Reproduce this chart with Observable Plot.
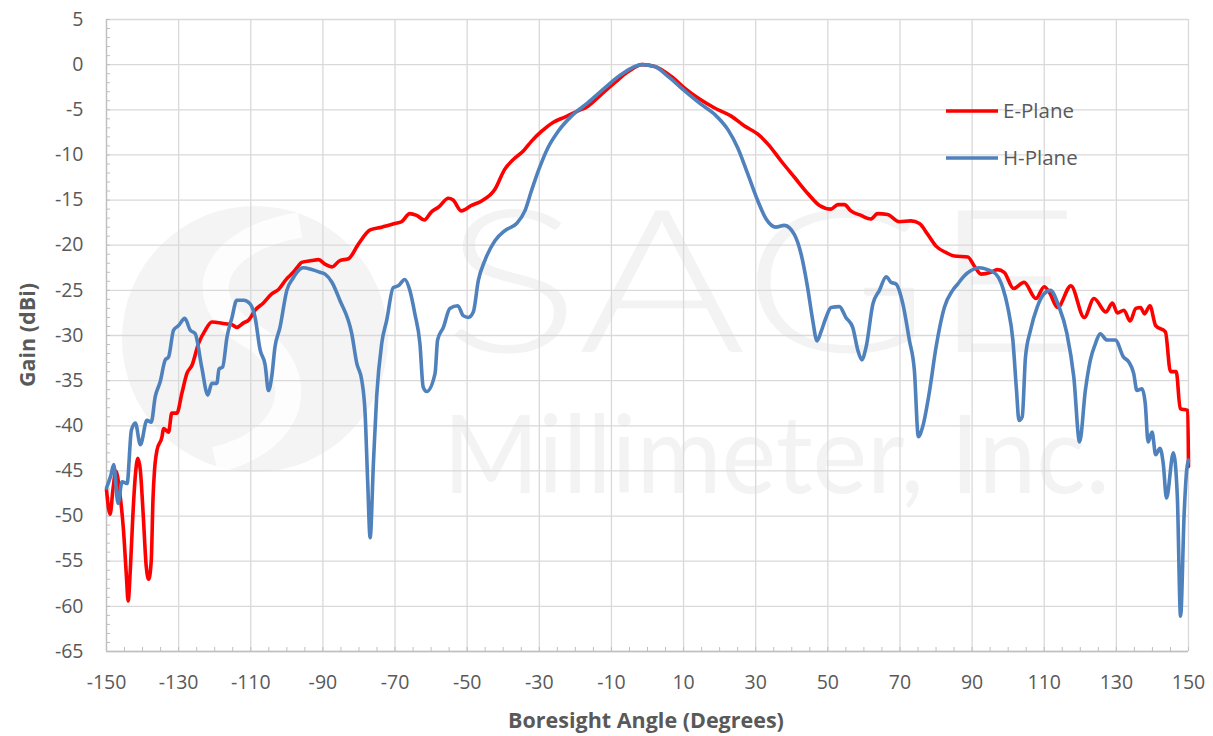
<!DOCTYPE html>
<html>
<head>
<meta charset="utf-8">
<script src="https://cdn.jsdelivr.net/npm/d3@7"></script>
<script src="https://cdn.jsdelivr.net/npm/@observablehq/plot@0.6"></script>
<style>
  html, body { margin: 0; padding: 0; background: #ffffff; }
  #wrap { position: relative; width: 1213px; height: 736px; overflow: hidden; font-family: "Open Sans", "Liberation Sans", sans-serif; }
  #wrap > svg, #wrap > div { position: absolute; left: 0; top: 0; }
</style>
</head>
<body>
<div id="wrap"></div>
<script>
// ---- data ----
const ePlaneAngle = [-150,-149,-148.2,-147.4,-146.3,-145.3,-144.5,-144.0,-143.4,-142.7,-142.0,-141.3,-140.6,-139.8,-139.0,-138.3,-137.6,-137.1,-136.7,-136.0,-134.6,-134.2,-132.8,-131.9,-130.5,-129.1,-127.7,-126.3,-124.5,-122.6,-120.8,-117.1,-115.2,-113.9,-112.0,-110.6,-108.8,-106.5,-104.2,-102.3,-100.0,-98.2,-96.8,-95.9,-93.1,-91.2,-89.4,-87.5,-85.3,-82.9,-80.2,-76.9,-73.7,-70.0,-68.2,-65.9,-64.0,-61.9,-59.9,-58.0,-55.2,-53.9,-51.6,-48.8,-46.0,-42.3,-39.6,-37.2,-34.5,-32.2,-29.4,-26.2,-22.9,-19.7,-16.5,-12.8,-9.1,-5.4,-1.5,2.0,6.6,10.3,14.0,18.6,23.2,26.9,30.6,33.4,37.1,40.8,44.5,47.7,50.9,52.8,54.6,56.4,59.2,61.9,63.8,66.6,69.8,73.0,75.4,77.7,80.0,82.7,85.1,88.8,90.6,92.5,95.2,97.0,98.9,101.5,104.4,107.7,110.0,111.4,113.7,117.4,121.1,123.8,127.1,128.9,130.3,132.1,133.8,135.4,136.7,137.8,139.3,140.9,143.6,145.0,146.6,147.7,149.8,150.0];
const ePlaneGain  = [-47.1,-49.8,-47.0,-45.0,-47.5,-51.5,-56.5,-59.4,-56.0,-50.0,-45.5,-43.6,-45.0,-50.0,-55.5,-57.0,-55.0,-48.0,-45.0,-42.7,-41.2,-40.3,-40.7,-38.6,-38.6,-36.4,-34.2,-33.3,-30.9,-29.4,-28.5,-28.7,-28.8,-29.1,-28.6,-28.3,-27.2,-26.4,-25.4,-24.9,-23.7,-23.0,-22.3,-21.9,-21.7,-21.6,-22.1,-22.4,-21.7,-21.5,-19.9,-18.3,-18.0,-17.6,-17.4,-16.5,-16.7,-17.2,-16.3,-15.8,-14.8,-15.0,-16.2,-15.6,-15.1,-13.8,-11.6,-10.5,-9.6,-8.5,-7.4,-6.4,-5.8,-5.2,-4.6,-3.3,-2.0,-0.8,0.0,-0.2,-1.3,-2.6,-3.7,-4.8,-5.7,-6.8,-7.7,-8.8,-10.7,-12.5,-14.3,-15.6,-16.0,-15.5,-15.5,-16.2,-16.7,-17.1,-16.5,-16.6,-17.4,-17.3,-17.6,-18.8,-20.1,-20.8,-21.2,-21.3,-22.3,-23.2,-23.0,-22.7,-23.0,-24.8,-24.1,-25.9,-24.6,-25.2,-26.9,-24.5,-28.0,-25.9,-27.4,-26.4,-27.5,-27.2,-28.4,-27.0,-26.9,-27.6,-26.7,-28.9,-29.6,-34.0,-34.0,-38.1,-38.3,-44.5];

const hPlaneAngle = [-150,-148.8,-148.0,-146.8,-145.7,-144.3,-143.1,-142.0,-140.6,-138.8,-137.6,-136.5,-135.1,-133.7,-132.8,-131.4,-130.0,-128.3,-126.8,-125.4,-123.6,-121.9,-120.8,-119.4,-118.8,-117.8,-116.6,-115.2,-113.9,-112.0,-110.2,-108.8,-107.4,-106.0,-105.1,-104.2,-103.3,-101.9,-100.0,-98.2,-97.2,-95.4,-93.1,-90.8,-89.4,-87.5,-85.3,-82.0,-80.6,-79.2,-78.3,-77.6,-76.9,-76.0,-75.1,-73.7,-72.3,-70.5,-69.1,-67.3,-65.9,-64.5,-63.1,-62.2,-61.2,-58.9,-58.2,-56.6,-54.8,-52.6,-51.1,-49.7,-48.3,-46.9,-45.1,-42.3,-39.6,-36.3,-34.0,-32.2,-30.3,-27.6,-24.8,-21.1,-16.5,-11.9,-7.3,-1.5,2.0,5.7,10.3,14.9,18.6,22.3,25.0,27.8,30.6,32.9,35.6,37.9,40.7,42.6,44.4,45.8,47.0,48.1,49.5,50.9,53.2,55.0,56.9,58.3,59.4,60.6,62.5,64.3,66.2,67.5,68.9,70.8,72.6,74.0,75.1,76.3,78.1,80.0,82.3,84.6,86.0,87.8,89.7,92.0,94.3,96.6,98.5,99.9,101.3,102.3,103.0,103.9,104.8,106.2,108.0,109.9,111.7,114.0,116.3,118.2,119.8,121.4,122.8,124.2,125.5,127.4,129.7,132.0,133.4,134.8,135.7,137.1,138.0,138.8,139.9,140.9,142.1,143.0,143.9,145.8,146.9,147.8,148.8,149.5,150.0];
const hPlaneGain  = [-46.9,-45.5,-44.3,-48.6,-46.2,-46.4,-40.5,-39.7,-42.1,-39.4,-39.6,-36.8,-35.1,-32.7,-32.4,-29.4,-28.9,-28.1,-29.4,-29.8,-33.5,-36.6,-35.3,-35.3,-33.7,-33.5,-30.2,-28.0,-26.1,-26.1,-26.5,-28.0,-31.6,-33.3,-36.1,-34.6,-31.3,-29.1,-25.0,-23.6,-23.0,-22.5,-22.7,-23.0,-23.2,-24.1,-26.1,-29.8,-33.1,-35.0,-38.6,-46.0,-52.4,-44.2,-36.8,-30.9,-28.3,-24.7,-24.5,-23.8,-25.0,-27.6,-30.9,-35.7,-36.2,-34.2,-30.5,-29.1,-27.0,-26.7,-27.8,-28.0,-27.4,-23.9,-21.7,-19.5,-18.4,-17.6,-16.2,-14.0,-11.8,-9.2,-7.4,-5.7,-4.2,-2.6,-1.1,0.0,-0.2,-1.3,-2.9,-4.4,-5.5,-7.2,-9.2,-12.1,-15.1,-17.1,-18.0,-17.8,-18.8,-21.0,-24.7,-28.3,-30.6,-29.6,-28.0,-26.9,-26.8,-28.0,-29.1,-31.6,-32.7,-31.3,-26.5,-25.0,-23.5,-24.1,-24.3,-26.5,-30.5,-33.9,-41.2,-40.1,-36.4,-31.3,-26.9,-25.0,-24.3,-23.4,-22.8,-22.5,-22.7,-23.2,-24.7,-26.9,-30.5,-36.0,-39.4,-39.0,-32.4,-29.4,-26.9,-25.4,-25.0,-26.7,-29.8,-34.6,-41.8,-36.1,-32.7,-30.9,-29.8,-30.5,-30.5,-32.4,-32.9,-34.2,-36.1,-35.9,-37.5,-41.8,-40.7,-43.2,-42.5,-44.2,-48.0,-43.0,-47.8,-61.1,-49.7,-44.9,-43.8];

const seriesNames = ["E-Plane", "H-Plane"];
const seriesColors = ["#FF0000", "#4F81BD"];
const xTicks = [-150,-130,-110,-90,-70,-50,-30,-10,10,30,50,70,90,110,130,150];
const yTicks = [5,0,-5,-10,-15,-20,-25,-30,-35,-40,-45,-50,-55,-60,-65];
const xMinorTicks = d3.range(-150, 150.1, 5);
const yMinorTicks = d3.range(-65, 5.1, 1);
const xTitle = "Boresight Angle (Degrees)";
const yTitle = "Gain (dBi)";
const watermarkTop = "SAGE";
const watermarkBottom = "Millimeter, Inc.";

// ---- build tables ----
const rows = [
  ...ePlaneAngle.map((a, i) => ({angle: a, gain: ePlaneGain[i], series: seriesNames[0]})),
  ...hPlaneAngle.map((a, i) => ({angle: a, gain: hPlaneGain[i], series: seriesNames[1]}))
];

const W = 1213, H = 736;
const wrap = document.getElementById("wrap");
const fontFam = '"Open Sans", "Liberation Sans", sans-serif';
const hyphenFmt = d => String(d);

// watermark layer (behind the chart)
const wm = d3.create("svg").attr("width", W).attr("height", H);
wm.append("circle").attr("cx", 255).attr("cy", 339).attr("r", 133).attr("fill", "#f4f4f4");
wm.append("path").attr("d", "M300,225 C210,240 190,300 250,335 C310,370 300,440 215,460")
  .attr("fill", "none").attr("stroke", "#ffffff").attr("stroke-width", 26).attr("opacity", 0.8);
wm.append("text").attr("x", 443).attr("y", 352).attr("font-family", "Lato, 'Open Sans', sans-serif")
  .attr("font-weight", 300).attr("font-size", 200).attr("fill", "#f3f3f3")
  .attr("textLength", 637).attr("lengthAdjust", "spacingAndGlyphs").text(watermarkTop);
wm.append("text").attr("x", 443).attr("y", 493).attr("font-family", "Lato, 'Open Sans', sans-serif")
  .attr("font-weight", 400).attr("font-size", 108).attr("fill", "#f3f3f3")
  .attr("textLength", 667).attr("lengthAdjust", "spacingAndGlyphs").text(watermarkBottom);
wrap.appendChild(wm.node());

const grid = {stroke: "#d9d9d9", strokeOpacity: 1, strokeWidth: 1.3};

const chart = Plot.plot({
  width: W,
  height: H,
  marginLeft: 106,
  marginRight: 25,
  marginTop: 19,
  marginBottom: 85,
  style: {fontFamily: fontFam, fontSize: "19.5px", color: "#595959", background: "transparent"},
  x: {domain: [-150, 150], label: null},
  y: {domain: [-65, 5], label: null},
  color: {domain: seriesNames, range: seriesColors},
  marks: [
    Plot.gridX(xTicks, grid),
    Plot.gridY(yTicks, grid),
    Plot.axisX(xMinorTicks, {anchor: "bottom", tickSize: -4, tickFormat: () => "", stroke: "#bfbfbf", strokeOpacity: 1, label: null}),
    Plot.axisY(yMinorTicks, {anchor: "left", tickSize: -4, tickFormat: () => "", stroke: "#bfbfbf", strokeOpacity: 1, label: null}),
    Plot.ruleY([-65], {stroke: "#bfbfbf", strokeWidth: 1.3}),
    Plot.ruleX([-150], {stroke: "#bfbfbf", strokeWidth: 1.3}),
    Plot.axisX(xTicks, {anchor: "bottom", tickSize: 0, tickPadding: 24, tickFormat: hyphenFmt, label: null, fill: "#595959"}),
    Plot.axisY(yTicks, {anchor: "left", tickSize: 0, tickPadding: 23, tickFormat: hyphenFmt, label: null, fill: "#595959"}),
    Plot.line(rows, {x: "angle", y: "gain", z: "series", stroke: "series", strokeWidth: 3.6, curve: "monotone-x", strokeLinejoin: "round", strokeLinecap: "round"})
  ]
});
wrap.appendChild(chart);

// legend + titles (front layer)
const fr = d3.create("svg").attr("width", W).attr("height", H).style("pointer-events", "none");
const legY = [111, 158];
seriesNames.forEach((name, i) => {
  fr.append("line").attr("x1", 946).attr("x2", 998).attr("y1", legY[i]).attr("y2", legY[i])
    .attr("stroke", seriesColors[i]).attr("stroke-width", 3.6);
  fr.append("text").attr("x", 1003).attr("y", legY[i]).attr("dy", "0.35em")
    .attr("font-family", fontFam).attr("font-size", 20.5).attr("fill", "#595959").text(name);
});
fr.append("text").attr("x", 646).attr("y", 720).attr("dy", "0.35em").attr("text-anchor", "middle")
  .attr("font-family", fontFam).attr("font-weight", 700).attr("font-size", 21.5).attr("fill", "#595959").text(xTitle);
fr.append("text").attr("transform", "translate(27,335) rotate(-90)").attr("dy", "0.35em").attr("text-anchor", "middle")
  .attr("font-family", fontFam).attr("font-weight", 700).attr("font-size", 21.5).attr("fill", "#595959").text(yTitle);
wrap.appendChild(fr.node());
</script>
</body>
</html>
